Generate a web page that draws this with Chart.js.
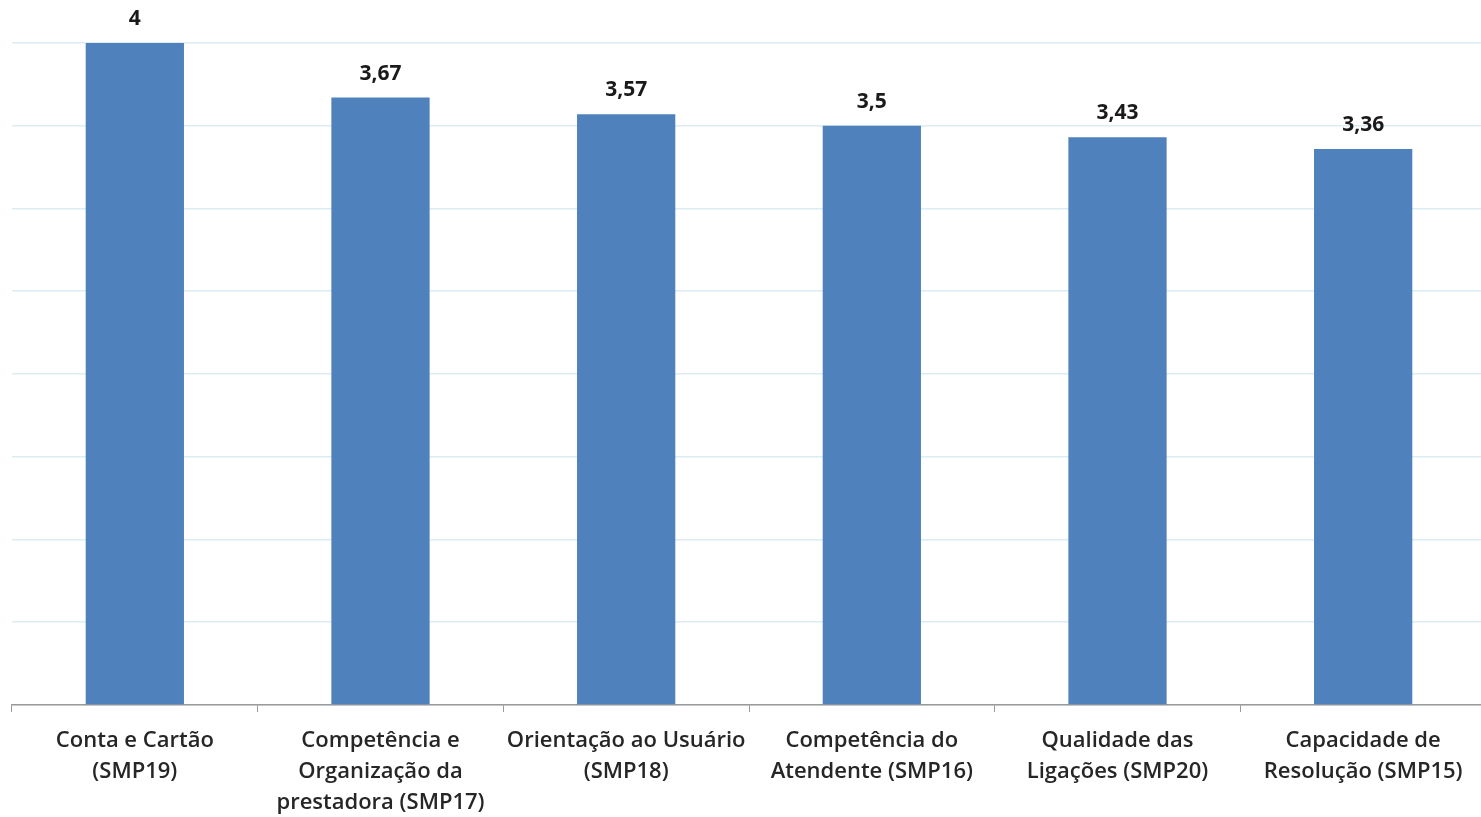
<!DOCTYPE html>
<html>
<head>
<meta charset="utf-8">
<script src="https://cdn.jsdelivr.net/npm/chart.js@4"></script>
<style>
  html, body { margin: 0; padding: 0; background: #fff; overflow: hidden; }
  #wrap { width: 1486px; height: 817px; position: relative; }
</style>
</head>
<body>
<div id="wrap"><canvas id="myChart"></canvas></div>
<script>
const categories = [
  ["Conta e Cartão", "(SMP19)"],
  ["Competência e", "Organização da", "prestadora (SMP17)"],
  ["Orientação ao Usuário", "(SMP18)"],
  ["Competência do", "Atendente (SMP16)"],
  ["Qualidade das", "Ligações (SMP20)"],
  ["Capacidade de", "Resolução (SMP15)"],
];
const scores = [4, 3.67, 3.57, 3.5, 3.43, 3.36];
const valueLabels = ["4", "3,67", "3,57", "3,5", "3,43", "3,36"];

// desenha os valores acima das barras
const barValues = {
  id: "barValues",
  afterDatasetsDraw(chart) {
    const ctx = chart.ctx;
    const meta = chart.getDatasetMeta(0);
    ctx.save();
    ctx.font = "bold 21px 'Open Sans'";
    ctx.fillStyle = "#1a1a1a";
    ctx.textAlign = "center";
    ctx.textBaseline = "middle";
    meta.data.forEach((bar, i) => {
      ctx.fillText(valueLabels[i], bar.x, bar.y - 24);
    });
    ctx.restore();
  },
};

const ctx = document.getElementById("myChart").getContext("2d");
const myChart = new Chart(ctx, {
  type: "bar",
  data: {
    labels: categories,
    datasets: [
      {
        data: scores,
        backgroundColor: "#4f81bd",
        borderWidth: 0,
        barPercentage: 0.4,
        categoryPercentage: 1,
      },
    ],
  },
  options: {
    responsive: true,
    maintainAspectRatio: false,
    animation: false,
    plugins: {
      legend: { display: false },
      tooltip: { enabled: false },
    },
    layout: {
      padding: { left: 12, right: 0, top: 43, bottom: -14 },
    },
    scales: {
      y: {
        min: 0,
        max: 4,
        ticks: { display: false, stepSize: 0.5 },
        grid: { color: "#dcecf3", lineWidth: 1.5, drawTicks: false },
        border: { display: false },
      },
      x: {
        grid: {
          drawOnChartArea: false,
          drawTicks: true,
          tickLength: 7,
          color: "#9a9a9a",
        },
        border: { display: true, color: "#9a9a9a", width: 1.5 },
        ticks: {
          autoSkip: false,
          maxRotation: 0,
          padding: 13,
          color: "#262626",
          font: { family: "'Open Sans'", size: 22, weight: "600", lineHeight: 1.41 },
        },
      },
    },
  },
  plugins: [barValues],
});
</script>
</body>
</html>
